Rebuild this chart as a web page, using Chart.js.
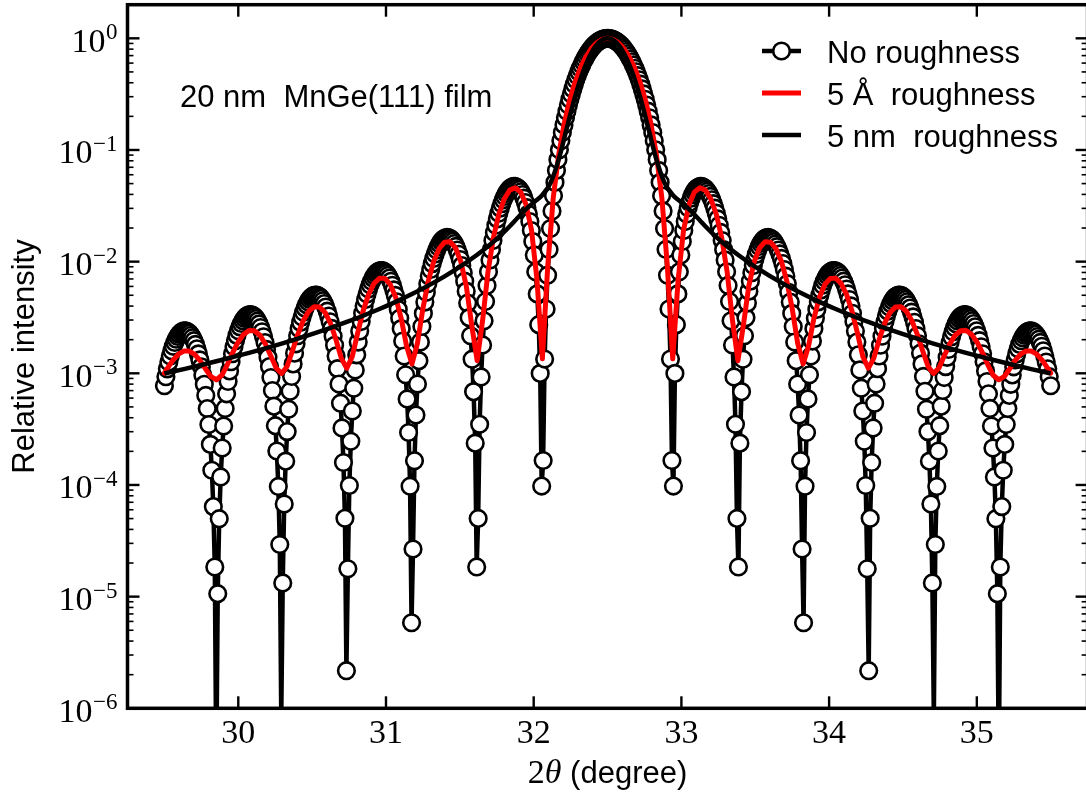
<!DOCTYPE html>
<html><head><meta charset="utf-8">
<script src="https://cdn.jsdelivr.net/npm/chart.js@4.4.1/dist/chart.umd.min.js"></script>
<style>html,body{margin:0;padding:0;background:#fff;overflow:hidden;width:1086px;height:795px}canvas{display:block}</style>
</head><body>
<canvas id="c" width="1090" height="795"></canvas>
<script>
// ---- tick labels / texts ----
const xTickValues = [30, 31, 32, 33, 34, 35];
const xTickLabels = ['30', '31', '32', '33', '34', '35'];
const yTickValues = [1, 1e-1, 1e-2, 1e-3, 1e-4, 1e-5, 1e-6];
const yTickBase = '10';
const yTickExponents = ['0', '\u22121', '\u22122', '\u22123', '\u22124', '\u22125', '\u22126'];
const yMinorFactors = [2, 3, 4, 5, 6, 7, 8, 9];
const yTitle = 'Relative intensity';
const xTitleNum = '2', xTitleSym = '\u03B8', xTitleRest = '(degree)';
const noteText = '20 nm  MnGe(111) film';
const seriesNames = ['No roughness', '5 \u00C5  roughness', '5 nm  roughness'];

// ---- No roughness (circles): 2theta sample positions ----
const noRoughX = [
29.5,29.51,29.52,29.53,29.54,29.55,29.56,29.57,29.58,29.59,29.6,29.61,29.62,29.63,29.64,29.65,29.66,29.67,29.68,29.69,29.7,29.71,29.72,29.73,29.74,29.75,29.76,29.77,29.78,29.79,
29.801,29.811,29.821,29.831,29.841,29.851,29.861,29.871,29.881,29.891,29.901,29.911,29.921,29.931,29.941,29.951,29.961,29.971,29.981,29.991,
30.001,30.011,30.021,30.031,30.041,30.051,30.061,30.071,30.081,30.091,30.101,30.111,30.121,30.131,30.141,30.151,30.161,30.171,30.181,30.191,
30.201,30.211,30.221,30.231,30.241,30.251,30.261,30.271,30.281,30.291,30.301,30.311,30.321,30.331,30.341,30.351,30.361,30.371,30.381,30.391,
30.402,30.412,30.422,30.432,30.442,30.452,30.462,30.472,30.482,30.492,30.502,30.512,30.522,30.532,30.542,30.552,30.562,30.572,30.582,30.592,
30.602,30.612,30.622,30.632,30.642,30.652,30.662,30.672,30.682,30.692,30.702,30.712,30.722,30.732,30.742,30.752,30.762,30.772,30.782,30.792,
30.802,30.812,30.822,30.832,30.842,30.852,30.862,30.872,30.882,30.892,30.902,30.912,30.922,30.932,30.942,30.952,30.962,30.972,30.982,30.992,
31.003,31.013,31.023,31.033,31.043,31.053,31.063,31.073,31.083,31.093,31.103,31.113,31.123,31.133,31.143,31.153,31.163,31.173,31.183,31.193,
31.203,31.213,31.223,31.233,31.243,31.253,31.263,31.273,31.283,31.293,31.303,31.313,31.323,31.333,31.343,31.353,31.363,31.373,31.383,31.393,
31.403,31.413,31.423,31.433,31.443,31.453,31.463,31.473,31.483,31.493,31.503,31.513,31.523,31.533,31.543,31.553,31.563,31.573,31.583,31.593,
31.604,31.614,31.624,31.634,31.644,31.654,31.664,31.674,31.684,31.694,31.704,31.714,31.724,31.734,31.744,31.754,31.764,31.774,31.784,31.794,
31.804,31.814,31.824,31.834,31.844,31.854,31.864,31.874,31.884,31.894,31.904,31.914,31.924,31.934,31.944,31.954,31.964,31.974,31.984,31.994,
32.004,32.014,32.024,32.034,32.044,32.054,32.064,32.074,32.084,32.094,32.104,32.114,32.124,32.134,32.144,32.154,32.164,32.174,32.184,32.194,
32.205,32.215,32.225,32.235,32.245,32.255,32.265,32.275,32.285,32.295,32.305,32.315,32.325,32.335,32.345,32.355,32.365,32.375,32.385,32.395,
32.405,32.415,32.425,32.435,32.445,32.455,32.465,32.475,32.485,32.495,
32.505,32.515,32.525,32.535,32.545,32.555,32.565,32.575,32.585,32.595,32.605,32.615,32.625,32.635,32.645,32.655,32.665,32.675,32.685,32.695,
32.705,32.715,32.725,32.735,32.745,32.755,32.765,32.775,32.785,32.795,
32.806,32.816,32.826,32.836,32.846,32.856,32.866,32.876,32.886,32.896,32.906,32.916,32.926,32.936,32.946,32.956,32.966,32.976,32.986,32.996,
33.006,33.016,33.026,33.036,33.046,33.056,33.066,33.076,33.086,33.096,33.106,33.116,33.126,33.136,33.146,33.156,33.166,33.176,33.186,33.196,
33.206,33.216,33.226,33.236,33.246,33.256,33.266,33.276,33.286,33.296,33.306,33.316,33.326,33.336,33.346,33.356,33.366,33.376,33.386,33.396,
33.407,33.417,33.427,33.437,33.447,33.457,33.467,33.477,33.487,33.497,33.507,33.517,33.527,33.537,33.547,33.557,33.567,33.577,33.587,33.597,
33.607,33.617,33.627,33.637,33.647,33.657,33.667,33.677,33.687,33.697,33.707,33.717,33.727,33.737,33.747,33.757,33.767,33.777,33.787,33.797,
33.807,33.817,33.827,33.837,33.847,33.857,33.867,33.877,33.887,33.897,33.907,33.917,33.927,33.937,33.947,33.957,33.967,33.977,33.987,33.997,
34.008,34.018,34.028,34.038,34.048,34.058,34.068,34.078,34.088,34.098,34.108,34.118,34.128,34.138,34.148,34.158,34.168,34.178,34.188,34.198,
34.208,34.218,34.228,34.238,34.248,34.258,34.268,34.278,34.288,34.298,34.308,34.318,34.328,34.338,34.348,34.358,34.368,34.378,34.388,34.398,
34.408,34.418,34.428,34.438,34.448,34.458,34.468,34.478,34.488,34.498,34.508,34.518,34.528,34.538,34.548,34.558,34.568,34.578,34.588,34.598,
34.609,34.619,34.629,34.639,34.649,34.659,34.669,34.679,34.689,34.699,34.709,34.719,34.729,34.739,34.749,34.759,34.769,34.779,34.789,34.799,
34.809,34.819,34.829,34.839,34.849,34.859,34.869,34.879,34.889,34.899,34.909,34.919,34.929,34.939,34.949,34.959,34.969,34.979,34.989,34.999,
35.009,35.019,35.029,35.039,35.049,35.059,35.069,35.079,35.089,35.099,35.109,35.119,35.129,35.139,35.149,35.159,35.169,35.179,35.189,35.199,
35.21,35.22,35.23,35.24,35.25,35.26,35.27,35.28,35.29,35.3,35.31,35.32,35.33,35.34,35.35,35.36,35.37,35.38,35.39,35.4,
35.41,35.42,35.43,35.44,35.45,35.46,35.47,35.48,35.49,35.5
];
// left half (29.5 -> 32.495)
const noRoughLeft = [
7.737e-4,9.321e-4,1.096e-3,1.263e-3,1.429e-3,1.590e-3,1.745e-3,1.890e-3,2.021e-3,2.136e-3,2.233e-3,2.310e-3,2.365e-3,2.396e-3,2.403e-3,2.386e-3,2.345e-3,2.280e-3,2.193e-3,2.084e-3,1.958e-3,1.815e-3,1.658e-3,1.492e-3,1.319e-3,1.143e-3,9.674e-4,7.965e-4,6.339e-4,4.832e-4,3.478e-4,2.309e-4,1.355e-4,6.399e-5,1.840e-5,2.809e-7,
1.063e-5,4.990e-5,1.180e-4,2.141e-4,3.369e-4,4.847e-4,6.549e-4,8.447e-4,1.051e-3,1.269e-3,1.497e-3,1.728e-3,1.959e-3,2.186e-3,2.403e-3,2.607e-3,2.794e-3,2.959e-3,3.100e-3,3.212e-3,3.294e-3,3.344e-3,3.361e-3,3.343e-3,3.291e-3,3.206e-3,3.090e-3,2.943e-3,2.770e-3,2.573e-3,2.357e-3,2.125e-3,1.884e-3,1.636e-3,1.389e-3,1.148e-3,9.167e-4,7.018e-4,5.079e-4,3.397e-4,2.015e-4,9.698e-5,2.929e-5,8.239e-7,
1.326e-5,6.748e-5,1.635e-4,3.006e-4,4.770e-4,6.904e-4,9.373e-4,1.214e-3,1.516e-3,1.837e-3,2.172e-3,2.515e-3,2.859e-3,3.198e-3,3.526e-3,3.835e-3,4.119e-3,4.373e-3,4.592e-3,4.770e-3,4.904e-3,4.991e-3,5.027e-3,5.013e-3,4.948e-3,4.833e-3,4.669e-3,4.459e-3,4.208e-3,3.920e-3,3.601e-3,3.257e-3,2.895e-3,2.524e-3,2.150e-3,1.783e-3,1.430e-3,1.101e-3,8.012e-4,5.401e-4,3.240e-4,1.589e-4,5.026e-5,2.172e-6,
1.776e-5,9.891e-5,2.462e-4,4.590e-4,7.352e-4,1.072e-3,1.463e-3,1.904e-3,2.388e-3,2.906e-3,3.450e-3,4.009e-3,4.575e-3,5.136e-3,5.681e-3,6.200e-3,6.683e-3,7.119e-3,7.501e-3,7.819e-3,8.066e-3,8.237e-3,8.326e-3,8.333e-3,8.254e-3,8.090e-3,7.845e-3,7.521e-3,7.124e-3,6.663e-3,6.145e-3,5.582e-3,4.984e-3,4.364e-3,3.736e-3,3.114e-3,2.512e-3,1.945e-3,1.427e-3,9.704e-4,5.892e-4,2.949e-4,9.749e-5,5.835e-6,
2.671e-5,1.649e-4,4.231e-4,8.015e-4,1.298e-3,1.908e-3,2.625e-3,3.440e-3,4.340e-3,5.313e-3,6.344e-3,7.414e-3,8.507e-3,9.602e-3,0.01068,0.01172,0.01270,0.01361,0.01441,0.01511,0.01568,0.01610,0.01637,0.01648,0.01642,0.01619,0.01580,0.01524,0.01453,0.01368,0.01271,0.01162,0.01045,9.220e-3,7.955e-3,6.685e-3,5.441e-3,4.252e-3,3.152e-3,2.170e-3,1.338e-3,6.850e-4,2.370e-4,1.844e-5,
5.017e-5,3.492e-4,9.281e-4,1.795e-3,2.952e-3,4.397e-3,6.122e-3,8.112e-3,0.01035,0.01281,0.01545,0.01825,0.02117,0.02415,0.02716,0.03013,0.03303,0.03579,0.03836,0.04069,0.04274,0.04444,0.04577,0.04667,0.04714,0.04713,0.04663,0.04564,0.04417,0.04222,0.03983,0.03703,0.03386,0.03040,0.02671,0.02287,0.01899,0.01515,0.01148,8.105e-3,5.141e-3,2.726e-3,9.981e-4,9.774e-5,
1.656e-4,1.342e-3,3.763e-3,7.562e-3,0.01286,0.01979,0.02843,0.03890,0.05127,0.06561,0.08195,0.1003,0.1208,0.1433,0.1677,0.1942,0.2225,0.2526,0.2844,0.3176,0.3523,0.3881,0.4249,0.4625,0.5006,0.5391,0.5776,0.6159,0.6537,0.6908,0.7269,0.7617,0.7950,0.8266,0.8561,0.8834,0.9082,0.9304,0.9498,0.9662,0.9794,0.9895,0.9962,0.9996
];
// right half (32.505 -> 35.5)
const noRoughRight = [
0.9996,0.9962,0.9895,0.9794,0.9662,0.9498,0.9304,0.9082,0.8834,0.8561,0.8266,0.7950,0.7617,0.7269,0.6908,0.6537,0.6159,0.5776,0.5391,0.5006,0.4625,0.4249,0.3881,0.3523,0.3176,0.2844,0.2526,0.2225,0.1942,0.1677,0.1433,0.1208,0.1003,0.08195,0.06561,0.05127,0.03890,0.02843,0.01979,0.01286,7.562e-3,3.763e-3,1.342e-3,1.656e-4,
9.774e-5,9.981e-4,2.726e-3,5.141e-3,8.105e-3,0.01148,0.01515,0.01899,0.02287,0.02671,0.03040,0.03386,0.03703,0.03983,0.04222,0.04417,0.04564,0.04663,0.04713,0.04714,0.04667,0.04577,0.04444,0.04274,0.04069,0.03836,0.03579,0.03303,0.03013,0.02716,0.02415,0.02117,0.01825,0.01545,0.01281,0.01035,8.112e-3,6.122e-3,4.397e-3,2.952e-3,1.795e-3,9.281e-4,3.492e-4,5.017e-5,
1.844e-5,2.370e-4,6.850e-4,1.338e-3,2.170e-3,3.152e-3,4.252e-3,5.441e-3,6.685e-3,7.955e-3,9.220e-3,0.01045,0.01162,0.01271,0.01368,0.01453,0.01524,0.01580,0.01619,0.01642,0.01648,0.01637,0.01610,0.01568,0.01511,0.01441,0.01361,0.01270,0.01172,0.01068,9.602e-3,8.507e-3,7.414e-3,6.344e-3,5.313e-3,4.340e-3,3.440e-3,2.625e-3,1.908e-3,1.298e-3,8.015e-4,4.231e-4,1.649e-4,2.671e-5,
5.835e-6,9.749e-5,2.949e-4,5.892e-4,9.704e-4,1.427e-3,1.945e-3,2.512e-3,3.114e-3,3.736e-3,4.364e-3,4.984e-3,5.582e-3,6.145e-3,6.663e-3,7.124e-3,7.521e-3,7.845e-3,8.090e-3,8.254e-3,8.333e-3,8.326e-3,8.237e-3,8.066e-3,7.819e-3,7.501e-3,7.119e-3,6.683e-3,6.200e-3,5.681e-3,5.136e-3,4.575e-3,4.009e-3,3.450e-3,2.906e-3,2.388e-3,1.904e-3,1.463e-3,1.072e-3,7.352e-4,4.590e-4,2.462e-4,9.891e-5,1.776e-5,
2.172e-6,5.026e-5,1.589e-4,3.240e-4,5.401e-4,8.012e-4,1.101e-3,1.430e-3,1.783e-3,2.150e-3,2.524e-3,2.895e-3,3.257e-3,3.601e-3,3.920e-3,4.208e-3,4.459e-3,4.669e-3,4.833e-3,4.948e-3,5.013e-3,5.027e-3,4.991e-3,4.904e-3,4.770e-3,4.592e-3,4.373e-3,4.119e-3,3.835e-3,3.526e-3,3.198e-3,2.859e-3,2.515e-3,2.172e-3,1.837e-3,1.516e-3,1.214e-3,9.373e-4,6.904e-4,4.770e-4,3.006e-4,1.635e-4,6.748e-5,1.326e-5,
8.239e-7,2.929e-5,9.698e-5,2.015e-4,3.397e-4,5.079e-4,7.018e-4,9.167e-4,1.148e-3,1.389e-3,1.636e-3,1.884e-3,2.125e-3,2.357e-3,2.573e-3,2.770e-3,2.943e-3,3.090e-3,3.206e-3,3.291e-3,3.343e-3,3.361e-3,3.344e-3,3.294e-3,3.212e-3,3.100e-3,2.959e-3,2.794e-3,2.607e-3,2.403e-3,2.186e-3,1.959e-3,1.728e-3,1.497e-3,1.269e-3,1.051e-3,8.447e-4,6.549e-4,4.847e-4,3.369e-4,2.141e-4,1.180e-4,4.990e-5,1.063e-5,
2.809e-7,1.840e-5,6.399e-5,1.355e-4,2.309e-4,3.478e-4,4.832e-4,6.339e-4,7.965e-4,9.674e-4,1.143e-3,1.319e-3,1.492e-3,1.658e-3,1.815e-3,1.958e-3,2.084e-3,2.193e-3,2.280e-3,2.345e-3,2.386e-3,2.403e-3,2.396e-3,2.365e-3,2.310e-3,2.233e-3,2.136e-3,2.021e-3,1.890e-3,1.745e-3,1.590e-3,1.429e-3,1.263e-3,1.096e-3,9.321e-4,7.737e-4
];

// ---- 5 Å roughness (red line) ----
const redX = [
29.5,29.521,29.5578,29.5945,29.6313,29.6681,29.7049,29.7417,29.7784,29.8152,29.852,29.8888,29.9255,29.9623,29.9991,30.0359,30.0727,30.1094,30.1462,30.183,
30.2198,30.2565,30.2933,30.3301,30.3669,30.4037,30.4404,30.4772,30.514,30.5508,30.5875,30.6243,30.6611,30.6979,30.7347,30.7714,30.8082,30.845,30.8818,30.9185,
30.9553,30.9921,31.0289,31.0657,31.1024,31.1392,31.176,31.2128,31.2495,31.2863,31.3231,31.3599,31.3967,31.4334,31.4702,31.507,31.5438,31.5806,31.6173,31.6541,
31.6909,31.7277,31.7644,31.8012,31.838,31.8748,31.9116,31.9483,31.9851,32.0219,32.0587,32.0954,32.1322,32.169,32.2058,32.2426,32.2793,32.3161,32.3529,32.3897,
32.4264,32.4632,32.5,
32.5368,32.5736,32.6103,32.6471,32.6839,32.7207,32.7574,32.7942,32.831,32.8678,32.9046,32.9413,32.9781,33.0149,33.0517,33.0884,33.1252,33.162,33.1988,33.2356,
33.2723,33.3091,33.3459,33.3827,33.4195,33.4562,33.493,33.5298,33.5666,33.6033,33.6401,33.6769,33.7137,33.7505,33.7872,33.824,33.8608,33.8976,33.9343,33.9711,
34.0079,34.0447,34.0815,34.1182,34.155,34.1918,34.2286,34.2653,34.3021,34.3389,34.3757,34.4125,34.4492,34.486,34.5228,34.5596,34.5963,34.6331,34.6699,34.7067,
34.7435,34.7802,34.817,34.8538,34.8906,34.9273,34.9641,35.0009,35.0377,35.0745,35.1112,35.148,35.1848,35.2216,35.2583,35.2951,35.3319,35.3687,35.4055,35.4422,
35.479,35.5
];
const redY = [
1.004e-3,1.112e-3,1.312e-3,1.483e-3,1.582e-3,1.581e-3,1.477e-3,1.297e-3,1.094e-3,9.325e-4,8.748e-4,9.601e-4,1.192e-3,1.532e-3,1.909e-3,2.232e-3,2.415e-3,2.404e-3,2.194e-3,1.838e-3,
1.436e-3,1.115e-3,9.947e-4,1.151e-3,1.592e-3,2.245e-3,2.972e-3,3.596e-3,3.950e-3,3.925e-3,3.510e-3,2.805e-3,2.005e-3,1.361e-3,1.111e-3,1.412e-3,2.288e-3,3.603e-3,5.079e-3,6.361e-3,
7.107e-3,7.082e-3,6.248e-3,4.796e-3,3.125e-3,1.759e-3,1.214e-3,1.856e-3,3.770e-3,6.699e-3,0.01006,0.01308,0.01495,0.01509,0.01332,0.01001,6.038e-3,2.682e-3,1.297e-3,2.975e-3,
8.190e-3,0.01654,0.02670,0.03656,0.04370,0.04595,0.04208,0.03242,0.01928,6.949e-3,1.350e-3,9.249e-3,0.03715,0.09006,0.1703,0.2766,0.4039,0.5433,0.6832,0.8106,
0.9126,0.9786,1.000,
0.9786,0.9126,0.8106,0.6832,0.5433,0.4039,0.2766,0.1703,0.09006,0.03715,9.249e-3,1.350e-3,6.949e-3,0.01928,0.03242,0.04208,0.04595,0.04370,0.03656,0.02670,
0.01654,8.190e-3,2.975e-3,1.297e-3,2.682e-3,6.038e-3,0.01001,0.01332,0.01509,0.01495,0.01308,0.01006,6.699e-3,3.770e-3,1.856e-3,1.214e-3,1.759e-3,3.125e-3,4.796e-3,6.248e-3,
7.082e-3,7.107e-3,6.361e-3,5.079e-3,3.603e-3,2.288e-3,1.412e-3,1.111e-3,1.361e-3,2.005e-3,2.805e-3,3.510e-3,3.925e-3,3.950e-3,3.596e-3,2.972e-3,2.245e-3,1.592e-3,1.151e-3,9.947e-4,
1.115e-3,1.436e-3,1.838e-3,2.194e-3,2.404e-3,2.415e-3,2.232e-3,1.909e-3,1.532e-3,1.192e-3,9.601e-4,8.748e-4,9.325e-4,1.094e-3,1.297e-3,1.477e-3,1.581e-3,1.582e-3,1.483e-3,1.312e-3,
1.112e-3,1.004e-3
];

// ---- 5 nm roughness (black line) ----
const blackX = [
29.5,29.521,29.6313,29.7416,29.852,29.9623,30.0727,30.183,30.2933,30.4037,30.514,30.6243,30.7347,30.845,30.9553,31.0657,31.176,31.2863,31.3967,31.507,
31.6173,31.6725,31.7277,31.7828,31.838,31.8932,31.9483,32.0035,32.0587,32.1138,32.169,32.2242,32.2793,32.3345,32.3897,32.4448,32.5,
32.5552,32.6103,32.6655,32.7207,32.7758,32.831,32.8862,32.9413,32.9965,33.0517,33.1068,33.162,33.2172,33.2723,33.3275,33.3827,
33.493,33.6033,33.7137,33.824,33.9343,34.0447,34.155,34.2653,34.3757,34.486,34.5963,34.7067,34.817,34.9273,35.0377,35.148,35.2584,35.3687,35.479,35.5
];
const blackY = [
9.978e-4,1.012e-3,1.091e-3,1.180e-3,1.281e-3,1.395e-3,1.524e-3,1.673e-3,1.844e-3,2.044e-3,2.277e-3,2.553e-3,2.882e-3,3.279e-3,3.764e-3,4.365e-3,5.123e-3,6.097e-3,7.377e-3,9.107e-3,
0.01152,0.01311,0.01506,0.01753,0.02075,0.02482,0.02951,0.03425,0.03955,0.05065,0.08197,0.1570,0.2977,0.5041,0.7377,0.9269,1.000,
0.9269,0.7377,0.5041,0.2977,0.1570,0.08197,0.05065,0.03955,0.03425,0.02951,0.02482,0.02075,0.01753,0.01506,0.01311,0.01152,
9.107e-3,7.377e-3,6.097e-3,5.123e-3,4.365e-3,3.764e-3,3.279e-3,2.882e-3,2.553e-3,2.277e-3,2.044e-3,1.844e-3,1.673e-3,1.524e-3,1.395e-3,1.281e-3,1.180e-3,1.091e-3,1.012e-3,9.978e-4
];

const noRoughY = noRoughLeft.concat(noRoughRight);
function pts(xs, ys) { return xs.map((x, i) => ({ x: x, y: ys[i] })); }

const SERIF = '"Liberation Serif", "DejaVu Serif", serif';
const SANS = '"Liberation Sans", Arial, sans-serif';

const decor = {
  id: 'decor',
  afterDraw(chart) {
    const { ctx, chartArea: a, scales: { x, y } } = chart;
    const seg = (x1, y1, x2, y2) => { ctx.beginPath(); ctx.moveTo(x1, y1); ctx.lineTo(x2, y2); ctx.stroke(); };
    ctx.save();
    ctx.strokeStyle = '#000'; ctx.fillStyle = '#000'; ctx.lineCap = 'butt';
    // minor y ticks
    ctx.lineWidth = 1.6;
    yTickValues.forEach(d => yMinorFactors.forEach(f => {
      const v = d * f; if (v > 2) return;
      const py = y.getPixelForValue(v);
      seg(a.left, py, a.left + 6, py); seg(a.right, py, a.right - 6, py);
    }));
    // major ticks
    ctx.lineWidth = 2.4;
    yTickValues.forEach(v => { const py = y.getPixelForValue(v); seg(a.left, py, a.left + 12, py); seg(a.right, py, a.right - 12, py); });
    xTickValues.forEach(v => { const px = x.getPixelForValue(v); seg(px, a.bottom, px, a.bottom - 12); seg(px, a.top, px, a.top + 12); });
    // frame
    ctx.lineWidth = 3.5;
    ctx.strokeRect(a.left, a.top, a.right - a.left, a.bottom - a.top);
    // x tick labels
    ctx.textBaseline = 'alphabetic';
    ctx.font = '34px ' + SERIF; ctx.textAlign = 'center';
    xTickValues.forEach((v, i) => ctx.fillText(xTickLabels[i], x.getPixelForValue(v), a.bottom + 34.7));
    // y tick labels 10^n
    ctx.textAlign = 'right';
    yTickValues.forEach((v, i) => {
      const py = y.getPixelForValue(v);
      ctx.font = '23px ' + SERIF;
      const sw = ctx.measureText(yTickExponents[i]).width;
      ctx.fillText(yTickExponents[i], a.left - 10, py + 1);
      ctx.font = '34px ' + SERIF;
      ctx.fillText(yTickBase, a.left - 10 - sw - 0.5, py + 13.4);
    });
    // x title: 2θ (degree)
    ctx.textAlign = 'left';
    ctx.font = '34px ' + SERIF; const w1 = ctx.measureText(xTitleNum).width;
    ctx.font = 'italic 34px ' + SERIF; const w2 = ctx.measureText(xTitleSym).width;
    ctx.font = '31px ' + SANS; const w3 = ctx.measureText(' ' + xTitleRest).width;
    let sx = (a.left + a.right) / 2 - (w1 + w2 + w3) / 2;
    const by = 783;
    ctx.font = '34px ' + SERIF; ctx.fillText(xTitleNum, sx, by); sx += w1;
    ctx.font = 'italic 34px ' + SERIF; ctx.fillText(xTitleSym, sx, by); sx += w2;
    ctx.font = '31px ' + SANS; ctx.fillText(' ' + xTitleRest, sx, by);
    // y title
    ctx.save();
    ctx.translate(33.5, (a.top + a.bottom) / 2); ctx.rotate(-Math.PI / 2);
    ctx.textAlign = 'center'; ctx.font = '31px ' + SANS; ctx.fillText(yTitle, 0, 0);
    ctx.restore();
    // annotation
    ctx.textAlign = 'left'; ctx.font = '31px ' + SANS;
    ctx.fillText(noteText, 180, 106.7);
    // legend
    const rows = [51, 93, 135];
    chart.data.datasets.forEach((ds, i) => {
      const cy = rows[i];
      ctx.strokeStyle = ds.borderColor; ctx.lineWidth = ds.borderWidth;
      seg(762, cy, 801, cy);
      if (ds.pointRadius > 0) {
        ctx.beginPath(); ctx.arc(781.5, cy, ds.pointRadius, 0, Math.PI * 2);
        ctx.fillStyle = ds.pointBackgroundColor; ctx.fill();
        ctx.lineWidth = ds.pointBorderWidth; ctx.strokeStyle = ds.pointBorderColor; ctx.stroke();
      }
      ctx.fillStyle = '#000'; ctx.font = '31px ' + SANS; ctx.textAlign = 'left';
      ctx.fillText(ds.label, 827, cy + 11.5);
    });
    ctx.restore();
  }
};

new Chart(document.getElementById('c'), {
  type: 'line',
  data: {
    datasets: [
      { label: seriesNames[0], data: pts(noRoughX, noRoughY), borderColor: '#000', borderWidth: 4.5,
        pointRadius: 8.3, pointBorderWidth: 2.6, pointBackgroundColor: '#fff', pointBorderColor: '#000',
        borderJoinStyle: 'round', tension: 0, order: 3, clip: 0 },
      { label: seriesNames[1], data: pts(redX, redY), borderColor: '#ff0000', borderWidth: 5,
        pointRadius: 0, borderJoinStyle: 'round', borderCapStyle: 'round', tension: 0, order: 2, clip: 0 },
      { label: seriesNames[2], data: pts(blackX, blackY), borderColor: '#000', borderWidth: 4.5,
        pointRadius: 0, borderJoinStyle: 'round', cubicInterpolationMode: 'monotone', order: 1, clip: 0 }
    ]
  },
  options: {
    responsive: false, animation: false, devicePixelRatio: 1, events: [],
    layout: { padding: { left: 127.5, right: 2.4, top: 4.7, bottom: 86.7 }, autoPadding: false },
    scales: {
      x: { type: 'linear', min: 29.25, max: 35.75, grid: { display: false, drawTicks: false }, border: { display: false }, ticks: { display: false } },
      y: { type: 'logarithmic', min: 1e-6, max: 2, grid: { display: false, drawTicks: false }, border: { display: false }, ticks: { display: false } }
    },
    plugins: { legend: { display: false }, tooltip: { enabled: false } }
  },
  plugins: [decor]
});
</script>
</body></html>
